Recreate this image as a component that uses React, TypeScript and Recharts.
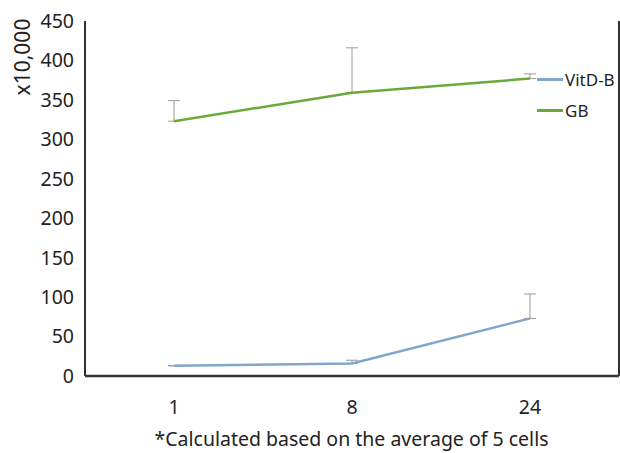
import React from 'react';
import { LineChart, Line, XAxis, YAxis, ErrorBar } from 'recharts';

const categories = ['1', '8', '24'];
const vitdB = [13, 16, 73];
const vitdBErrUp = [0, 4, 31];
const gb = [323, 359, 377];
const gbErrUp = [26, 57, 6];
const yTicks = [0, 50, 100, 150, 200, 250, 300, 350, 400, 450];

const data = categories.map((c, i) => ({
  t: c,
  vitd: vitdB[i],
  vitdErr: [0, vitdBErrUp[i]],
  gb: gb[i],
  gbErr: [0, gbErrUp[i]],
}));

const FONT = '"Noto Sans", sans-serif';
const AXIS = '#333';

const legendItems = [
  { name: 'VitD-B', color: '#7fa7cc' },
  { name: 'GB', color: '#6aaa3a' },
];

export default function App() {
  return (
    <div style={{ position: 'absolute', left: 0, top: 0, width: 620, height: 453, background: '#fff' }}>
      <LineChart
        width={620}
        height={453}
        data={data}
        margin={{ top: 21, right: 0, bottom: 0, left: 0 }}
      >
        <XAxis
          dataKey="t"
          xAxisId="b"
          height={77}
          padding={{ left: 89, right: 89 }}
          axisLine={{ stroke: AXIS, strokeWidth: 2.5 }}
          tickLine={false}
          tickSize={0}
          tickMargin={24}
          tick={{ fill: '#222', fontSize: 19.5, fontFamily: FONT }}
        />
        <XAxis
          dataKey="t"
          xAxisId="top"
          orientation="top"
          height={0}
          padding={{ left: 89, right: 89 }}
          axisLine={{ stroke: AXIS, strokeWidth: 2 }}
          tickLine={false}
          tick={false}
        />
        <YAxis
          yAxisId="l"
          width={85}
          domain={[0, 450]}
          ticks={yTicks}
          interval={0}
          axisLine={{ stroke: AXIS, strokeWidth: 2 }}
          tickLine={false}
          tickSize={0}
          tickMargin={11}
          tick={{ fill: '#222', fontSize: 19.5, fontFamily: FONT }}
        />
        <YAxis
          yAxisId="r"
          orientation="right"
          width={1}
          domain={[0, 450]}
          axisLine={{ stroke: AXIS, strokeWidth: 2 }}
          tickLine={false}
          tick={false}
        />
        <Line
          xAxisId="b"
          yAxisId="l"
          type="linear"
          dataKey="vitd"
          name="VitD-B"
          stroke="#7fa7cc"
          strokeWidth={2.5}
          dot={false}
          isAnimationActive={false}
        >
          <ErrorBar dataKey="vitdErr" width={6} stroke="#9a9a9a" strokeWidth={1} direction="y" />
        </Line>
        <Line
          xAxisId="b"
          yAxisId="l"
          type="linear"
          dataKey="gb"
          name="GB"
          stroke="#6aaa3a"
          strokeWidth={2.5}
          dot={false}
          isAnimationActive={false}
        >
          <ErrorBar dataKey="gbErr" width={6} stroke="#9a9a9a" strokeWidth={1} direction="y" />
        </Line>
      </LineChart>
      <div
        style={{
          position: 'absolute',
          left: 537,
          top: 64,
          fontFamily: FONT,
          fontSize: 17,
          color: '#222',
        }}
      >
        {legendItems.map((it) => (
          <div key={it.name} style={{ display: 'flex', alignItems: 'center', height: 31 }}>
            <div style={{ width: 26, height: 3, background: it.color, marginRight: 2 }} />
            <span>{it.name}</span>
          </div>
        ))}
      </div>
      <div
        style={{
          position: 'absolute',
          left: 22,
          top: 57,
          transform: 'translate(-50%, -50%) rotate(-90deg)',
          fontFamily: FONT,
          fontSize: 21,
          color: '#222',
          whiteSpace: 'nowrap',
        }}
      >
        x10,000
      </div>
      <div
        style={{
          position: 'absolute',
          left: 150,
          width: 403,
          top: 425,
          textAlign: 'center',
          fontFamily: FONT,
          fontSize: 19.5,
          color: '#222',
          whiteSpace: 'nowrap',
        }}
      >
        *Calculated based on the average of 5 cells
      </div>
    </div>
  );
}
